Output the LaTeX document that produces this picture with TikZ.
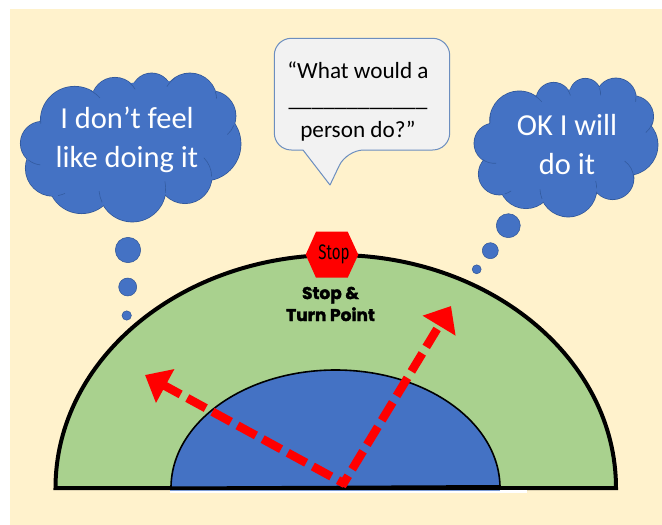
\documentclass[tikz,border=0pt]{standalone}
\usepackage{fontspec}
\setmainfont{Carlito}
\newfontfamily\stopfont[FakeStretch=0.72]{Fira Sans}
\newfontfamily\heavyfont[FakeBold=2.2]{Poppins Bold}
\usetikzlibrary{arrows.meta,calc}
\definecolor{cream}{HTML}{FFF2CC}
\definecolor{ringgreen}{HTML}{A9D18E}
\definecolor{coreblue}{HTML}{4472C4}
\definecolor{edgeblue}{HTML}{2F5597}
\definecolor{calloutedge}{HTML}{6C8EBF}
\definecolor{calloutfill}{HTML}{F2F2F2}
\newcommand{\cloudlobes}[1]{%
  \foreach \cx/\cy/\cr in {#1}{\draw[draw=edgeblue,line width=1.4pt] (\cx,\cy) circle[radius=\cr];}
  \foreach \cx/\cy/\cr in {#1}{\fill[coreblue] (\cx,\cy) circle[radius=\cr];}}
\newcommand{\cloudcurls}[1]{%
  \foreach \cx/\cy/\cr/\aa/\ab in {#1}{\draw[curl] ($(\cx,\cy)+(\aa:\cr)$) arc[start angle=\aa,end angle=\ab,radius=\cr];}}
\tikzset{
  curl/.style={draw=edgeblue!80!coreblue,line width=0.6pt},
  bubble/.style={circle,fill=coreblue,draw=edgeblue,line width=0.5pt,inner sep=0pt},
  cloudtext/.style={text=white,font=\fontsize{30.5}{39}\selectfont,align=center,inner sep=0pt},
  dashedarrow/.style={draw=red,line width=8.5pt,dash pattern=on 21pt off 7.6pt,-{Triangle[length=23pt,width=37pt]}},
}
\begin{document}
\begin{tikzpicture}[x=1pt,y=-1pt]
\useasboundingbox (0,0) rectangle (662,525);
\fill[white] (0,0) rectangle (662,525);
\fill[cream] (10,9) rectangle (662,525);
% half rings
\coordinate (ringL) at (55.5,488);
\coordinate (ringR) at (616,488);
\coordinate (coreL) at (171,488);
\coordinate (coreR) at (500,486.5);
\draw[fill=ringgreen,line width=4pt,line join=miter] (ringL) arc[start angle=180,end angle=0,x radius=280.25pt,y radius=233pt] -- cycle;
\fill[white] (170,490) rectangle (527,492.5);
\fill[coreblue!70!white] (170,490) rectangle (500,491);
\draw[fill=coreblue,line width=1.6pt] (coreL) arc[start angle=180,end angle=0,x radius=164.5pt,y radius=118pt] -- cycle;
\draw[line width=3pt] (coreL) -- (coreR);
% arrows
\coordinate (origL) at (345,484);
\coordinate (tipL) at (145,375);
\coordinate (origR) at (342,486);
\coordinate (tipR) at (451,306);
\draw[dashedarrow,dash phase=13pt] (origL) -- (tipL);
\draw[dashedarrow,dash phase=9pt] (origR) -- (tipR);
% stop sign
\fill[red] (316,231.7) -- (347.7,231.7) -- (358.3,254.7) -- (347.7,277.7) -- (316,277.7) -- (305.7,254.7) -- cycle;
\node[inner sep=0pt,font=\stopfont\fontsize{21}{21}\selectfont] (stopsign) at (334,254) {Stop};
\node[inner sep=0pt,align=center,font=\heavyfont\fontsize{17}{22}\selectfont] (stoplabel) at (330.5,304) {Stop \&\\Turn Point};
% callout
\draw[fill=calloutfill,draw=calloutedge,line width=1pt,line join=round,rounded corners=17pt]
  (303,150) -- (274.3,150) -- (274.3,38.3) -- (449.7,38.3) -- (449.7,150) -- (346.7,150) [sharp corners] -- (330,185) -- cycle;
\node[inner sep=0pt,align=center,font=\fontsize{23.2}{28.5}\selectfont] (calloutlabel) at (358,102) {“What would a\\[-1pt]\_\_\_\_\_\_\_\_\_\_\_\_\\[3pt]person do?”};
% left cloud
\begin{scope}[x=0.3333pt,y=-0.3333pt]
\cloudlobes{224/362/102,345/303/70,455/280/60,570/300/80,632/348/75,612/432/110,555/530/80,397/565/100,245/540/100,160/505/83,127/430/65}
\fill[coreblue] (122,372) -- (282,272) -- (405,247) -- (505,243) -- (645,278) -- (700,378) -- (632,530) -- (500,575) -- (305,605) -- (150,585) -- (85,490) -- cycle;
\cloudcurls{224/362/102/-62/-42,345/303/70/-50/-30,570/300/80/210/235,570/300/80/-18/-3,632/348/75/22/48,555/530/80/0/-45,397/565/100/8/-12,397/565/100/155/175,160/505/83/80/65,127/430/65/130/95,224/362/102/175/185}
\end{scope}
\node[cloudtext] (cloudLtext) at (127,140) {I don’t feel\\like doing it};
% right cloud
\begin{scope}[xshift=331pt,x=0.3333pt,y=-0.3333pt]
\cloudlobes{565/362/88,668/300/52,763/282/46,855/295/60,905/350/62,890/435/90,845/535/63,712/565/85,585/545/80,505/522/62,490/430/60}
\fill[coreblue] (480,375) -- (615,293) -- (718,268) -- (805,265) -- (918,290) -- (945,385) -- (905,520) -- (795,567) -- (635,595) -- (510,575) -- (460,480) -- cycle;
\cloudcurls{565/362/88/-58/-40,668/300/52/-35/-15,763/282/46/-22/5,855/295/60/-5/10,905/350/62/20/50,845/535/63/0/-55,712/565/85/0/-15,712/565/85/158/178,505/522/62/75/55,490/430/60/125/85,565/362/88/175/190}
\end{scope}
\node[cloudtext] (cloudRtext) at (567,145) {OK I will\\do it};
% thought bubbles
\node[bubble,minimum size=25.4pt] (tl1) at (128,250) {};
\node[bubble,minimum size=18pt] (tl2) at (127.7,287) {};
\node[bubble,minimum size=9.4pt] (tl3) at (126.7,315.5) {};
\node[bubble,minimum size=24pt] (tr1) at (508.3,225.7) {};
\node[bubble,minimum size=16pt] (tr2) at (490.3,250.7) {};
\node[bubble,minimum size=9pt] (tr3) at (476.7,269.3) {};
\end{tikzpicture}
\end{document}
